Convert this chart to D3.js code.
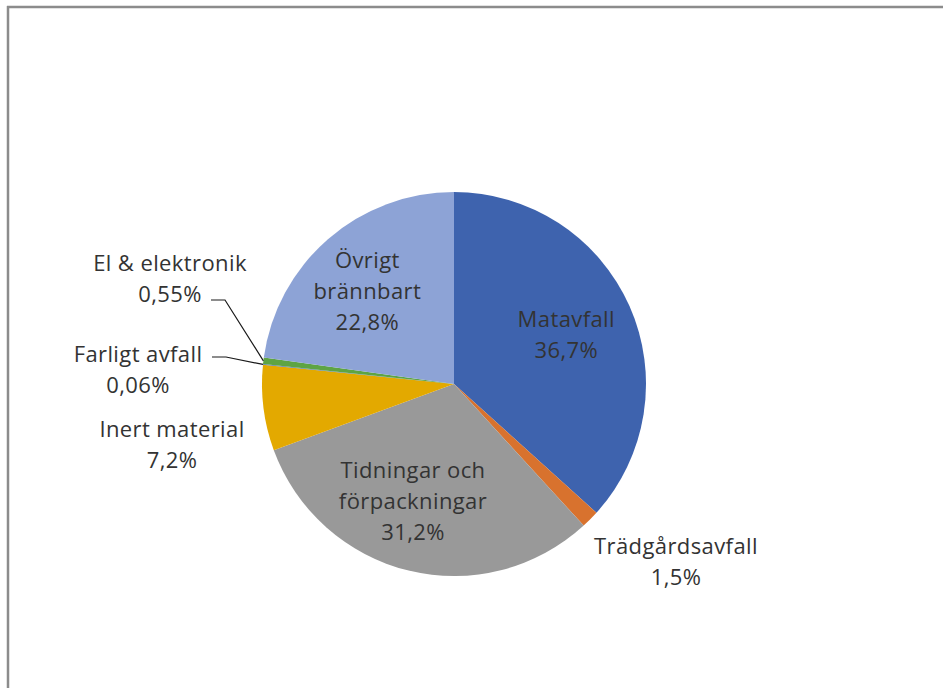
<!DOCTYPE html>
<html>
<head>
<meta charset="utf-8">
<script src="https://d3js.org/d3.v7.min.js"></script>
<style>
  body { margin: 0; background: #fff; }
  text { font-family: "Open Sans", Lato, sans-serif; }
</style>
</head>
<body>
<script>
    // data
    var categories = ["Matavfall", "Trädgårdsavfall", "Tidningar och förpackningar", "Inert material", "Farligt avfall", "El & elektronik", "Övrigt brännbart"];
    var values = [36.7, 1.5, 31.2, 7.2, 0.06, 0.55, 22.8];
    var valueLabels = ["36,7%", "1,5%", "31,2%", "7,2%", "0,06%", "0,55%", "22,8%"];
    var labelLines = [["Matavfall"], ["Trädgårdsavfall"], ["Tidningar och", "förpackningar"], ["Inert material"], ["Farligt avfall"], ["El & elektronik"], ["Övrigt", "brännbart"]];
    var colors = ["#3e63ae", "#d8722e", "#999999", "#e3a900", "#4a74bc", "#5ea443", "#8da3d6"];

    var width = 943, height = 688,
        cx = 454, cy = 384, radius = 192,
        lineH = 31, fontSize = 22;

    // label placement (offset from pie centre) for the slices labelled outside
    var outside = {
        "Trädgårdsavfall": [222, 177],
        "Inert material": [-282, 60],
        "Farligt avfall": [-316, -15],
        "El & elektronik": [-284, -106]
    };
    // small nudges for the inside labels
    var nudge = {
        "Tidningar och förpackningar": [-12, -2],
        "Övrigt brännbart": [-6, 0]
    };
    // where the leader lines bend (only for the tiny slices)
    var leaders = {
        "Farligt avfall": [[212, 357], [226, 357]],
        "El & elektronik": [[211, 300], [225, 300]]
    };

    var svg = d3.select("body").append("svg")
        .attr("width", width)
        .attr("height", height);

    // frame
    svg.append("line").attr("x1", 8).attr("x2", 8).attr("y1", 6).attr("y2", height)
        .attr("stroke", "#8c8c8c").attr("stroke-width", 2.5);
    svg.append("line").attr("x1", 7).attr("x2", width).attr("y1", 7).attr("y2", 7)
        .attr("stroke", "#8c8c8c").attr("stroke-width", 2.5);

    var data = categories.map((c, i) => ({ name: c, value: values[i], label: valueLabels[i], lines: labelLines[i], color: colors[i] }));

    var pie = d3.pie().sort(null).value(d => d.value);
    var arc = d3.arc().innerRadius(0).outerRadius(radius);
    var labelArc = d3.arc().innerRadius(radius * 0.64).outerRadius(radius * 0.64);

    var g = svg.append("g").attr("transform", "translate(" + cx + "," + cy + ")");
    var arcs = pie(data);

    g.selectAll("path")
        .data(arcs)
        .enter().append("path")
        .attr("d", arc)
        .attr("fill", d => d.data.color);

    // leader lines
    arcs.forEach(d => {
        var bend = leaders[d.data.name];
        if (!bend) return;
        var a = (d.startAngle + d.endAngle) / 2;
        var end = [cx + Math.sin(a) * radius, cy - Math.cos(a) * radius];
        svg.append("polyline")
            .attr("points", bend.concat([end]).map(p => p.join(",")).join(" "))
            .attr("fill", "none")
            .attr("stroke", "#1a1a1a")
            .attr("stroke-width", 1.2);
    });

    // labels
    arcs.forEach(d => {
        var pos;
        if (outside[d.data.name]) {
            pos = outside[d.data.name];
        } else {
            var c = labelArc.centroid(d), n = nudge[d.data.name] || [0, 0];
            pos = [c[0] + n[0], c[1] + n[1]];
        }
        var lines = d.data.lines.concat([d.data.label]);
        var t = g.append("text")
            .attr("text-anchor", "middle")
            .attr("fill", "#333333")
            .style("font-size", fontSize + "px")
            .style("letter-spacing", "0.4px");
        lines.forEach((l, i) => {
            t.append("tspan")
                .attr("x", pos[0])
                .attr("y", pos[1] - (lines.length - 1) * lineH / 2 + i * lineH + 8)
                .text(l);
        });
    });
</script>
</body>
</html>
